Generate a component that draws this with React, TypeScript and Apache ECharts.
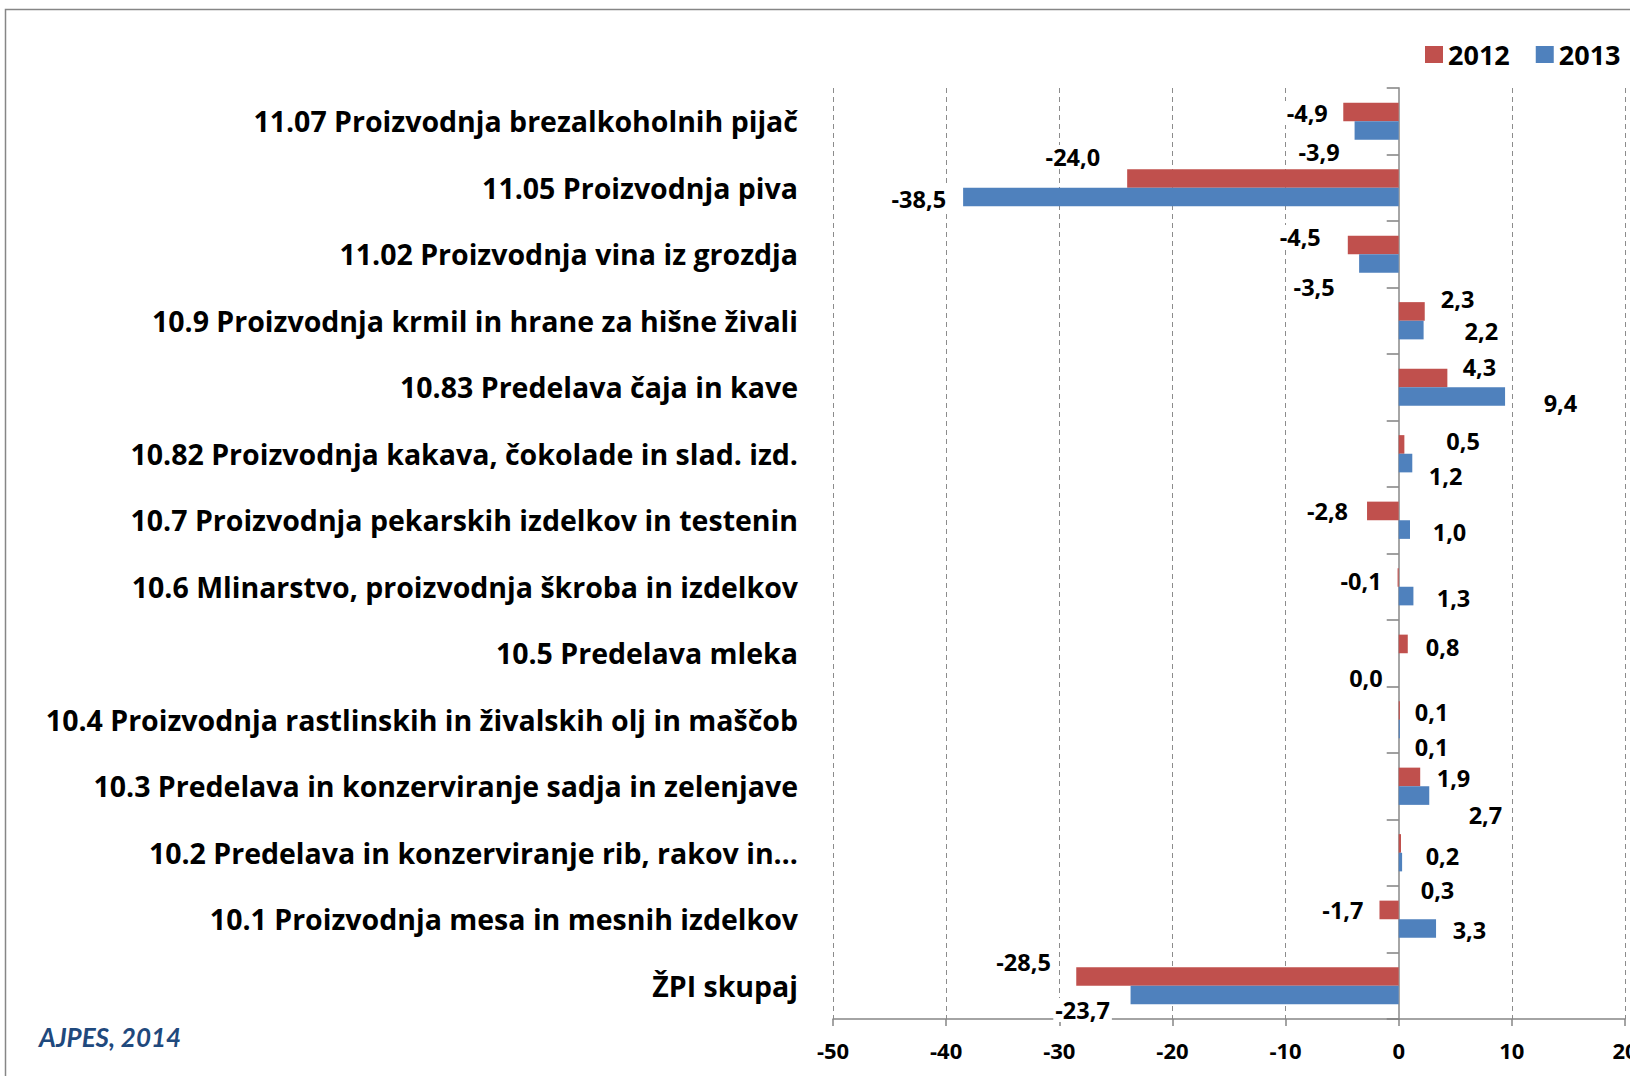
import React, { useEffect, useRef } from "react";
import * as echarts from "echarts";

const categories = [
  "11.07 Proizvodnja brezalkoholnih pijač",
  "11.05 Proizvodnja piva",
  "11.02 Proizvodnja vina iz grozdja",
  "10.9 Proizvodnja krmil in hrane za hišne živali",
  "10.83 Predelava čaja in kave",
  "10.82 Proizvodnja kakava, čokolade in slad. izd.",
  "10.7 Proizvodnja pekarskih izdelkov in testenin",
  "10.6 Mlinarstvo, proizvodnja škroba in izdelkov",
  "10.5 Predelava mleka",
  "10.4 Proizvodnja rastlinskih in živalskih olj in maščob",
  "10.3 Predelava in konzerviranje sadja in zelenjave",
  "10.2 Predelava in konzerviranje rib, rakov in…",
  "10.1 Proizvodnja mesa in mesnih izdelkov",
  "ŽPI skupaj",
];
const seriesNames = ["2012", "2013"];
const values2012 = [-4.9, -24.0, -4.5, 2.3, 4.3, 0.5, -2.8, -0.1, 0.8, 0.1, 1.9, 0.2, -1.7, -28.5];
const values2013 = [-3.9, -38.5, -3.5, 2.2, 9.4, 1.2, 1.0, 1.3, 0.0, 0.1, 2.7, 0.3, 3.3, -23.7];
const xMin = -50;
const xMax = 20;
const xInterval = 10;
const sourceNote = "AJPES, 2014";

// label nudges (layout only), [dx, dy] per bar label
const labelNudge2012 = [
  [-8.5, 1], [-20, -21.5], [-20, -8], [9, -12.5], [8.3, -11], [35, -3.5], [-12, 0],
  [-9, 3.5], [11, 3], [8, 1.5], [9.5, 1], [17.7, 12.5], [-9, 0], [-18.4, -14.5],
];
const labelNudge2013 = [
  [-8, 21.5], [-10, 2], [-17.4, 23.5], [34, 1], [31.6, 6.5], [9.5, 13], [15.7, 2.5],
  [16.3, 2], [-9, 15.5], [8, 18], [32.4, 19.5], [11.6, 28], [9.6, 1.5], [-13.7, 15],
];

const FONT = "'Open Sans', 'Noto Sans', sans-serif";
const NOTE_FONT = "Lato, sans-serif";
const RED = "#C0504D";
const BLUE = "#4F81BD";

function fmt(v: number) {
  return v.toFixed(1).replace(".", ",");
}

function buildData(values: number[], nudges: number[][]) {
  return values.map((v, i) => ({
    value: v,
    label: {
      position: v <= 0 ? "left" : "right",
      offset: nudges[i],
    },
  }));
}

export default function App() {
  const ref = useRef<HTMLDivElement>(null);
  useEffect(() => {
    if (!ref.current) return;
    const chart = echarts.init(ref.current, undefined, { renderer: "svg" });
    const labelStyle = {
      show: true,
      fontSize: 23.5,
      fontWeight: "bold",
      fontFamily: FONT,
      color: "#000",
      backgroundColor: "#fff",
      padding: [0, 2],
      formatter: (p: any) => fmt(p.value),
    };
    chart.setOption({
      animation: false,
      backgroundColor: "#fff",
      grid: {
        left: 833,
        right: 5,
        top: 88,
        bottom: 57,
        containLabel: false,
        outerBoundsMode: "none",
      },
      legend: {
        data: seriesNames,
        left: 1420,
        top: 36,
        icon: "rect",
        itemWidth: 18,
        itemHeight: 17,
        itemGap: 26,
        textStyle: { fontSize: 27, fontWeight: "bold", color: "#000", fontFamily: FONT },
      },
      xAxis: {
        type: "value",
        min: xMin,
        max: xMax,
        interval: xInterval,
        axisLine: { show: true, lineStyle: { color: "#868686", width: 1.5 } },
        axisTick: { show: true, length: 7, lineStyle: { color: "#868686", width: 1.5 } },
        splitLine: { show: true, lineStyle: { color: "#8c8c8c", width: 1, type: [5, 4] } },
        axisLabel: {
          fontSize: 22,
          fontWeight: "bold",
          color: "#000",
          fontFamily: FONT,
          margin: 20,
          hideOverlap: false,
          showMaxLabel: true,
          showMinLabel: true,
        },
      },
      yAxis: {
        type: "category",
        inverse: true,
        data: categories,
        axisLine: { show: true, onZero: true, lineStyle: { color: "#A6A6A6", width: 2 } },
        axisTick: { show: true, length: 12, lineStyle: { color: "#808080", width: 1.5 } },
        splitLine: { show: false },
        axisLabel: {
          fontSize: 28.5,
          fontWeight: "bold",
          color: "#000",
          fontFamily: FONT,
          margin: 35,
          hideOverlap: false,
        },
      },
      series: [
        {
          name: seriesNames[0],
          type: "bar",
          data: buildData(values2012, labelNudge2012),
          itemStyle: { color: RED },
          barGap: "0%",
          barCategoryGap: "44%",
          label: labelStyle,
        },
        {
          name: seriesNames[1],
          type: "bar",
          data: buildData(values2013, labelNudge2013),
          itemStyle: { color: BLUE },
          barGap: "0%",
          barCategoryGap: "44%",
          label: labelStyle,
        },
      ],
      graphic: [
        {
          type: "rect",
          shape: { x: 5.5, y: 9.5, width: 1700, height: 1200 },
          style: { fill: "none", stroke: "#868686", lineWidth: 1.5 },
          silent: true,
          z: -10,
        },
        {
          type: "text",
          left: 39,
          top: 1024,
          style: {
            text: sourceNote,
            font: "italic bold 26px " + NOTE_FONT,
            fill: "#1F497D",
          },
        },
      ],
    });
    return () => chart.dispose();
  }, []);
  return (
    <div
      ref={ref}
      style={{ position: "absolute", left: 0, top: 0, width: 1630, height: 1076 }}
    />
  );
}
